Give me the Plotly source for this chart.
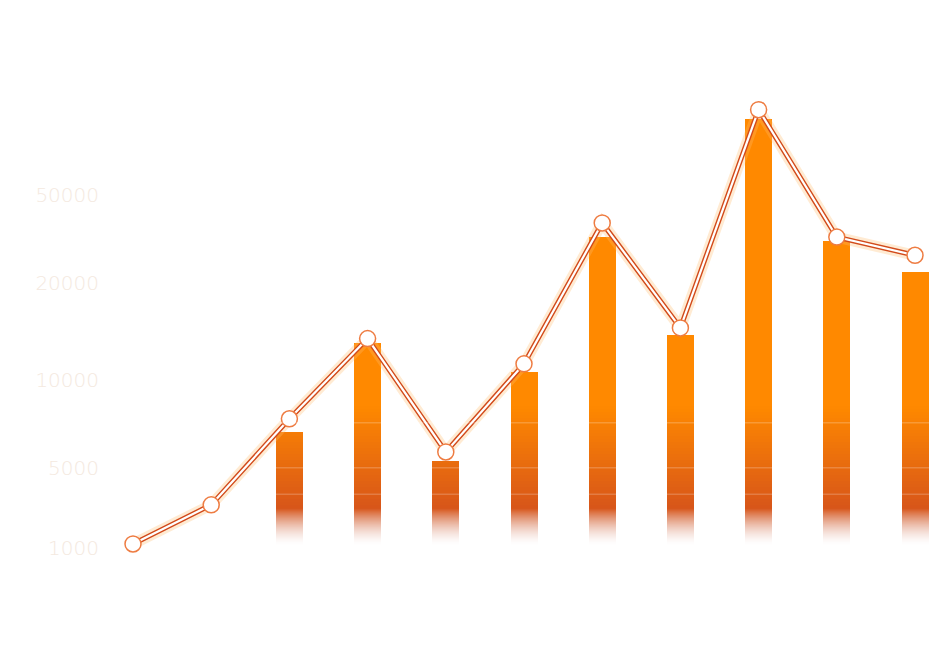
import numpy as np
import plotly.graph_objects as go

# value axis: tick labels and the level where each sits (axis is not linear)
tick_values = [1000, 5000, 10000, 20000, 50000]
tick_labels = ["1000", "5000", "10000", "20000", "50000"]
tick_levels = [0, 0.91, 1.9, 3.0, 4.0]

# series
line_periods = list(range(0, 11))
line_values = [1200, 3150, 7800, 14300, 5900, 11700, 40500, 15400, 79000, 35700, 29500]
bar_periods = list(range(2, 11))
bar_values = [7000, 13800, 5400, 10800, 35700, 14600, 75500, 34300, 23700]

FIG_W, FIG_H = 944, 642          # page body keeps an 8px margin
PX_PER_LEVEL = 88.25
ZERO_PX = 540                    # figure pixel row of level 0
SOLID_LV = 0.45                  # below this the bars fade out


def to_level(v):
    # map a value onto the piecewise axis, extending the last segment upwards
    v = np.asarray(v, dtype=float)
    lv = np.interp(v, tick_values, tick_levels)
    slope = (tick_levels[-1] - tick_levels[-2]) / (tick_values[-1] - tick_values[-2])
    hi = v > tick_values[-1]
    lv[hi] = tick_levels[-1] + (v[hi] - tick_values[-1]) * slope
    return lv


def band_color(lv):
    top = np.array([255, 137, 0])
    mid = np.array([216, 86, 26])
    low = np.array([200, 110, 85])
    if lv >= 1.6:
        return "rgba(255,137,0,1)"
    if lv >= SOLID_LV:
        t = (1.6 - lv) / (1.6 - SOLID_LV)
        c = top + (mid - top) * t
        return "rgba(%d,%d,%d,1)" % tuple(c)
    t = min(1.0, (SOLID_LV - lv) / 0.42)
    c = mid + (low - mid) * t
    a = max(0.0, 1 - t) ** 1.5
    return "rgba(%d,%d,%d,%.3f)" % (c[0], c[1], c[2], a)


bar_levels = to_level(bar_values)
line_levels = to_level(line_values)

fig = go.Figure()

# bars built from thin stacked bands (pixel aligned) for a gradient and a faded foot
top_px = ZERO_PX - bar_levels.max() * PX_PER_LEVEL
solid_px = ZERO_PX - SOLID_LV * PX_PER_LEVEL
band_px = np.concatenate([np.arange(ZERO_PX - 2, solid_px, -1),
                          np.arange(np.floor(solid_px), top_px - 4, -3)])
edges = (ZERO_PX - band_px) / PX_PER_LEVEL
for i, lo in enumerate(edges):
    hi = edges[i + 1] if i + 1 < len(edges) else lo + 3 / PX_PER_LEVEL
    xs, hs = [], []
    for p, top in zip(bar_periods, bar_levels):
        if top > lo:
            xs.append(p)
            hs.append(min(top, hi) - lo)
    if not xs:
        continue
    fig.add_trace(go.Bar(
        x=xs, y=hs, base=[lo] * len(xs), width=0.345,
        marker=dict(color=band_color((lo + hi) / 2), line=dict(width=0)),
        hoverinfo="skip", showlegend=False,
    ))

# glowing double line with hollow markers
fig.add_trace(go.Scatter(
    x=line_periods, y=line_levels, mode="lines",
    line=dict(color="rgba(255,190,110,0.3)", width=11),
    hoverinfo="skip", showlegend=False,
))
fig.add_trace(go.Scatter(
    x=line_periods, y=line_levels, mode="lines",
    line=dict(color="#D24A1A", width=5),
    hoverinfo="skip", showlegend=False,
))
fig.add_trace(go.Scatter(
    x=line_periods, y=line_levels, mode="lines+markers",
    line=dict(color="#FFFFFF", width=2.2),
    marker=dict(size=16, color="#FFFFFF", line=dict(color="#EE7C42", width=1.5)),
    customdata=line_values, hovertemplate="%{customdata}<extra></extra>",
    showlegend=False,
))

# faint light streaks, only visible where they cross the bars
for lv in [0.61, 0.91, 1.42]:
    fig.add_shape(type="line", xref="paper", x0=0.2, x1=1, y0=lv, y1=lv,
                  line=dict(color="rgba(255,255,255,0.2)", width=1.5), layer="above")

fig.update_layout(
    width=FIG_W, height=FIG_H,
    margin=dict(l=92, r=0, t=0, b=0),
    paper_bgcolor="white", plot_bgcolor="white",
    barmode="overlay", bargap=0,
    xaxis=dict(range=[-0.422, 10.473], visible=False),
    yaxis=dict(
        range=[(ZERO_PX - FIG_H) / PX_PER_LEVEL, ZERO_PX / PX_PER_LEVEL],
        tickvals=tick_levels, ticktext=tick_labels,
        showgrid=False, zeroline=False, showline=False, ticks="",
        tickfont=dict(family="DejaVu Sans", size=20, color="#F4E9E0", weight=200),
    ),
)

fig.write_html("out.html")
